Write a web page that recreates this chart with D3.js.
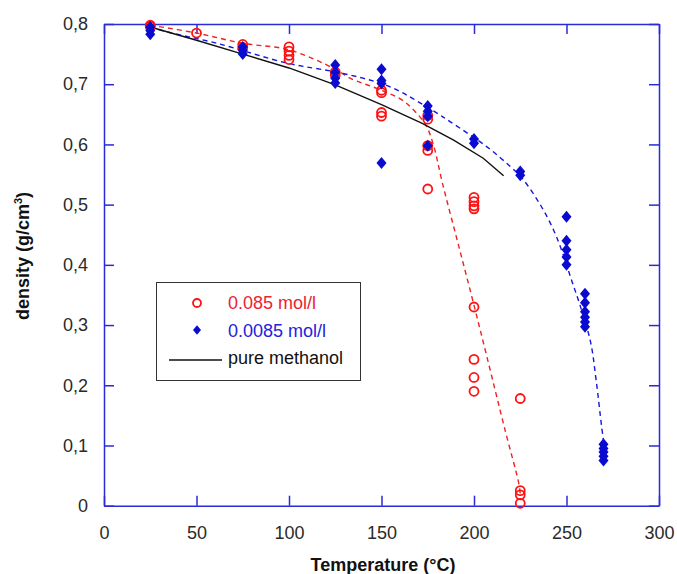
<!DOCTYPE html>
<html lang="en">

<head>
    <meta charset="UTF-8">
    <title>Density vs temperature</title>
    <script src="https://d3js.org/d3.v7.min.js"></script>
    <style>
        body { margin: 0; background: #fff; }
        text { font-family: Arial, "Liberation Sans", sans-serif; }
    </style>
</head>

<body>
    <script>
        // measured points, 0.085 mol/l
        var redTemp = [25, 25, 50, 75, 75, 100, 100, 100, 100, 125, 125, 150, 150, 150, 150,
            175, 175, 175, 175, 175, 200, 200, 200, 200, 200, 200, 200, 200, 225, 225, 225, 225];
        var redDens = [0.798, 0.796, 0.785, 0.766, 0.761, 0.762, 0.755, 0.748, 0.741, 0.72, 0.715, 0.69, 0.686, 0.653, 0.647,
            0.648, 0.642, 0.598, 0.59, 0.526, 0.512, 0.505, 0.498, 0.493, 0.33, 0.243, 0.213, 0.19, 0.178, 0.025, 0.018, 0.004];

        // measured points, 0.0085 mol/l
        var blueTemp = [25, 25, 25, 75, 75, 75, 125, 125, 125, 125, 150, 150, 150, 150,
            175, 175, 175, 175, 200, 200, 225, 225, 250, 250, 250, 250, 250,
            260, 260, 260, 260, 260, 260, 270, 270, 270, 270, 270];
        var blueDens = [0.795, 0.789, 0.783, 0.762, 0.756, 0.75, 0.732, 0.72, 0.71, 0.702, 0.725, 0.706, 0.701, 0.569,
            0.664, 0.655, 0.647, 0.598, 0.609, 0.602, 0.555, 0.549, 0.48, 0.44, 0.425, 0.413, 0.40,
            0.352, 0.337, 0.322, 0.313, 0.305, 0.297, 0.102, 0.095, 0.089, 0.082, 0.075];

        // fitted curves
        var redFitT = [25, 50, 75, 100, 125, 133, 150, 161, 168, 174, 178, 183, 191, 199, 207, 217, 224, 225];
        var redFitD = [0.798, 0.785, 0.768, 0.757, 0.725, 0.71, 0.69, 0.674, 0.655, 0.632, 0.6, 0.535, 0.44, 0.345, 0.247, 0.123, 0.04, 0.02];
        var blueFitT = [25, 34, 61, 99, 124, 140, 152, 160, 167, 180, 187, 207, 219, 226, 236, 243, 248, 253, 257, 263, 266, 269, 270];
        var blueFitD = [0.795, 0.787, 0.768, 0.735, 0.721, 0.71, 0.699, 0.688, 0.676, 0.652, 0.638, 0.596, 0.565, 0.544, 0.499, 0.458, 0.419, 0.372, 0.336, 0.272, 0.209, 0.131, 0.108];
        var pureT = [25, 50, 75, 100, 125, 150, 172, 189, 205, 216];
        var pureD = [0.795, 0.773, 0.75, 0.727, 0.699, 0.666, 0.635, 0.607, 0.577, 0.548];

        var xTicks = [0, 50, 100, 150, 200, 250, 300];
        var yTicks = [0, 0.1, 0.2, 0.3, 0.4, 0.5, 0.6, 0.7, 0.8];
        var legendLabels = ["0.085 mol/l", "0.0085 mol/l", "pure methanol"];

        var axisColor = "#2a2ad8";

        var svg = d3.select("body")
            .append("svg")
            .attr("width", "677")
            .attr("height", "574");

        var x = d3.scaleLinear().domain([0, 300]).range([104, 659]);
        var y = d3.scaleLinear().domain([0, 0.8]).range([505.7, 24]);

        var comma = function (d) { return String(d).replace(".", ","); };

        function styleAxis(g) {
            g.selectAll("path, line").attr("stroke", axisColor).attr("stroke-width", 1.5);
            g.selectAll("text").attr("fill", "#2a2a2a").style("font-size", "18px")
                .style("font-family", "Arial, 'Liberation Sans', sans-serif");
        }

        svg.append("g")
            .attr("transform", "translate(0," + y(0) + ")")
            .call(d3.axisBottom(x).tickValues(xTicks).tickSize(-10).tickSizeOuter(0).tickPadding(21))
            .call(styleAxis);
        svg.append("g")
            .attr("transform", "translate(0," + y(0.8) + ")")
            .call(d3.axisTop(x).tickValues(xTicks).tickSize(-10).tickSizeOuter(0).tickFormat(""))
            .call(styleAxis);
        svg.append("g")
            .attr("transform", "translate(" + x(0) + ",0)")
            .call(d3.axisLeft(y).tickValues(yTicks).tickSize(-10).tickSizeOuter(0).tickPadding(16).tickFormat(comma))
            .call(styleAxis);
        svg.append("g")
            .attr("transform", "translate(" + x(300) + ",0)")
            .call(d3.axisRight(y).tickValues(yTicks).tickSize(-10).tickSizeOuter(0).tickFormat(""))
            .call(styleAxis);

        // axis titles
        svg.append("text")
            .attr("x", 383)
            .attr("y", 571)
            .attr("text-anchor", "middle")
            .style("font-size", "18px")
            .style("font-weight", "bold")
            .attr("fill", "#111")
            .text("Temperature (°C)");

        var ylab = svg.append("text")
            .attr("transform", "translate(29,256) rotate(-90)")
            .attr("text-anchor", "middle")
            .style("font-size", "18px")
            .style("font-weight", "bold")
            .attr("fill", "#111");
        ylab.append("tspan").text("density (g/cm");
        ylab.append("tspan").attr("dy", -7).style("font-size", "11px").text("3");
        ylab.append("tspan").attr("dy", 7).text(")");

        // curves
        function fitLine(ts, ds, curve) {
            return d3.line()
                .x(function (d, i) { return x(ts[i]); })
                .y(function (d, i) { return y(ds[i]); })
                .curve(curve)(ts);
        }

        svg.append("path")
            .attr("d", fitLine(redFitT, redFitD, d3.curveCatmullRom))
            .attr("fill", "none")
            .attr("stroke", "#ee2222")
            .attr("stroke-width", 1.4)
            .attr("stroke-dasharray", "5,4");
        svg.append("path")
            .attr("d", fitLine(blueFitT, blueFitD, d3.curveCatmullRom))
            .attr("fill", "none")
            .attr("stroke", "#1515dd")
            .attr("stroke-width", 1.4)
            .attr("stroke-dasharray", "5,4");
        svg.append("path")
            .attr("d", fitLine(pureT, pureD, d3.curveLinear))
            .attr("fill", "none")
            .attr("stroke", "#111")
            .attr("stroke-width", 1.4);

        var diamond = "M0,-6L5,0L0,6L-5,0Z";

        // points
        svg.append("g").selectAll("circle")
            .data(redTemp)
            .enter()
            .append("circle")
            .attr("cx", function (d) { return x(d); })
            .attr("cy", function (d, i) { return y(redDens[i]); })
            .attr("r", 4.5)
            .attr("fill", "none")
            .attr("stroke", "#ff1111")
            .attr("stroke-width", 1.8);

        svg.append("g").selectAll("path")
            .data(blueTemp)
            .enter()
            .append("path")
            .attr("d", diamond)
            .attr("transform", function (d, i) { return "translate(" + x(d) + "," + y(blueDens[i]) + ")"; })
            .attr("fill", "#0a0ad0");

        // legend
        var legend = svg.append("g");
        legend.append("rect")
            .attr("x", 156.5)
            .attr("y", 282.5)
            .attr("width", 204)
            .attr("height", 98)
            .attr("fill", "#fff")
            .attr("stroke", "#333")
            .attr("stroke-width", 1);

        legend.append("circle")
            .attr("cx", 197)
            .attr("cy", 303)
            .attr("r", 4)
            .attr("fill", "none")
            .attr("stroke", "#ff1111")
            .attr("stroke-width", 1.8);
        legend.append("path")
            .attr("d", diamond)
            .attr("transform", "translate(197,330) scale(0.8)")
            .attr("fill", "#0a0ad0");
        legend.append("line")
            .attr("x1", 169)
            .attr("x2", 222)
            .attr("y1", 360)
            .attr("y2", 360)
            .attr("stroke", "#111")
            .attr("stroke-width", 1.4);

        var legendColors = ["#ee2233", "#2222dd", "#111"];
        legend.selectAll("text.lbl")
            .data(legendLabels)
            .enter()
            .append("text")
            .attr("class", "lbl")
            .attr("x", 228)
            .attr("y", function (d, i) { return 309 + i * 27.5; })
            .style("font-size", "18px")
            .attr("fill", function (d, i) { return legendColors[i]; })
            .text(function (d) { return d; });
    </script>
</body>

</html>
